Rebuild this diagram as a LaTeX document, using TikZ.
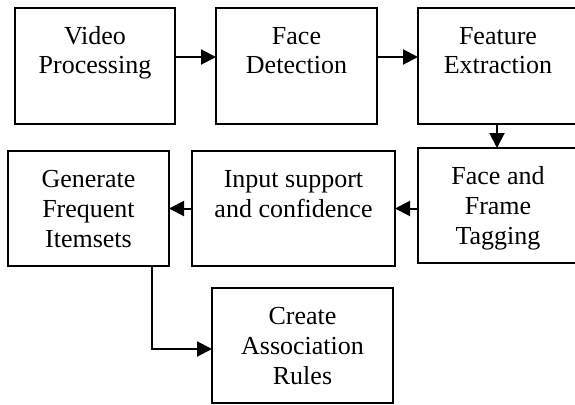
\documentclass[tikz,border=0pt]{standalone}
\usepackage{fontspec}
\setmainfont{Liberation Serif}
\usetikzlibrary{arrows.meta}
\newcommand\mybx[3]{\parbox[c][#2][t]{#1}{\centering\fontsize{26}{30}\selectfont\rule{0pt}{36pt}#3}}
\begin{document}
\begin{tikzpicture}[x=1pt,y=-1pt,
  box/.style={draw,line width=1.8pt,inner sep=0pt,outer sep=0pt},
  arr/.style={line width=2pt,-{Triangle[length=15pt,width=15pt]}}]
\useasboundingbox (0,0) rectangle (575,404);
\node[box] (b1) at (95,66) {\mybx{160pt}{116pt}{Video\\Processing}};
\node[box] (b2) at (296.5,66) {\mybx{161pt}{116pt}{Face\\Detection}};
\node[box] (b3) at (498,66) {\mybx{160pt}{116pt}{Feature\\Extraction}};
\node[box] (b4) at (498,205.5) {\mybx{160pt}{115pt}{Face and\\Frame\\Tagging}};
\node[box] (b5) at (293.5,208.5) {\mybx{203pt}{115pt}{Input support\\and confidence}};
\node[box] (b6) at (88.5,208.5) {\mybx{161pt}{115pt}{Generate\\Frequent\\Itemsets}};
\node[box] (b7) at (302.5,345.5) {\mybx{181pt}{115pt}{Create\\Association\\Rules}};
\draw[arr] ([yshift=9pt]b1.east) -- ([yshift=9pt]b2.west);
\draw[arr] ([yshift=9pt]b2.east) -- ([yshift=9pt]b3.west);
\draw[arr] ([xshift=-1pt]b3.south) -- ([xshift=-1pt]b4.north);
\draw[arr] (b4.west |- b5.east) -- (b5.east);
\draw[arr] (b5.west) -- (b6.east);
\draw[arr] ([xshift=-17pt]b6.south east) |- ([yshift=-3.5pt]b7.west);
\end{tikzpicture}
\end{document}
